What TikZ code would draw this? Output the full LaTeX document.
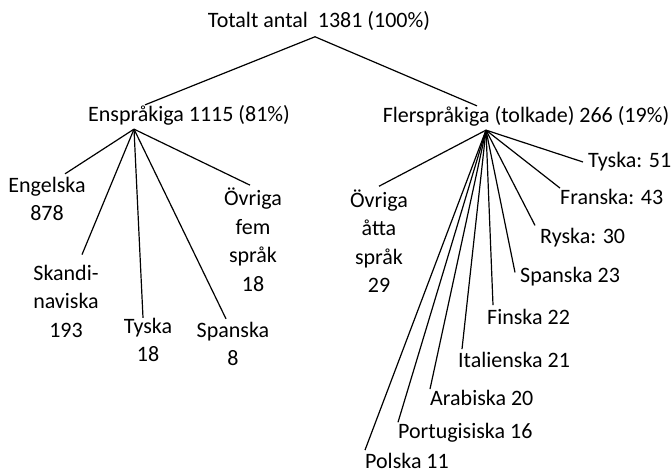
\documentclass[tikz,border=0pt]{standalone}
\usepackage{fontspec}
\setmainfont{Carlito}
\tikzset{
  lbl/.style={inner sep=0pt, align=center,
    font=\fontsize{22}{28.5}\selectfont},
  rlbl/.style={lbl, anchor=west},
  twig/.style={line width=1.2pt}
}

\begin{document}
\begin{tikzpicture}[x=1pt,y=-1pt]
     \useasboundingbox (0,0) rectangle (672,475);
     % top level
     \node[lbl] (tot)  at (319,21)  {Totalt antal\ \ 1381 (100\%)};
     \node[lbl] (ens)  at (189,115) {Enspråkiga 1115 (81\%)};
     \node[lbl] (fler) at (526,116) {Flerspråkiga (tolkade) 266 (19\%)};
     \coordinate (top)     at ([xshift=-4pt,yshift=-6pt]tot.south);
     \coordinate (enshub)  at ([xshift=-55pt,yshift=-4pt]ens.south);
     \coordinate (flerhub) at ([xshift=-40pt,yshift=-4pt]fler.south);
     \draw[twig] ([xshift=-44pt]ens.north) -- (top) -- ([xshift=-49pt]fler.north);
     % enspraakiga
     \node[lbl] (eng)   at (47,199)  {Engelska\\878};
     \node[lbl] (skand) at (66,301)  {Skandi-\\naviska\\193};
     \node[lbl] (tys18) at (148,340) {Tyska\\18};
     \node[lbl] (spa8)  at (233,344) {Spanska\\8};
     \node[lbl] (ovrf)  at (253,240) {Övriga\\fem\\språk\\18};
     \draw[twig] (enshub) -- ([xshift=18pt,yshift=3pt]eng.north);
     \draw[twig] (enshub) -- ([xshift=16pt,yshift=10pt]skand.north);
     \draw[twig] (enshub) -- ([xshift=-5pt]tys18.north);
     \draw[twig] (enshub) -- ([xshift=-7pt,yshift=3pt]spa8.north);
     \draw[twig] (enshub) -- ([xshift=-3pt,yshift=3pt]ovrf.north);
     % flerspraakiga
     \node[lbl]  (ovra)  at (379,241) {Övriga\\åtta\\språk\\29};
     \node[rlbl] (tys51) at (588,162) {Tyska: 51};
     \node[rlbl] (fra)   at (560,197) {Franska: 43};
     \node[rlbl] (rys)   at (540,238) {Ryska: 30};
     \node[rlbl] (spa23) at (520,277) {Spanska 23};
     \node[rlbl] (fin)   at (487,317) {Finska 22};
     \node[rlbl] (ita)   at (458,360) {Italienska 21};
     \node[rlbl] (ara)   at (430,398) {Arabiska 20};
     \node[rlbl] (por)   at (398,433) {Portugisiska 16};
     \node[rlbl] (pol)   at (365,461) {Polska 11};
     \draw[twig] (flerhub) -- ([yshift=3pt]ovra.north);
     \draw[twig] (flerhub) -- ([xshift=-5pt]tys51.west);
     \foreach \n/\dx/\dy in {fra/0/1,rys/-5/3,spa23/-5/-5,fin/6/4,ita/4/3,ara/0/1,por/0/1,pol/0/3}
       \draw[twig] (flerhub) -- ([xshift=\dx pt,yshift=\dy pt]\n.north west);
    \end{tikzpicture}
\end{document}
